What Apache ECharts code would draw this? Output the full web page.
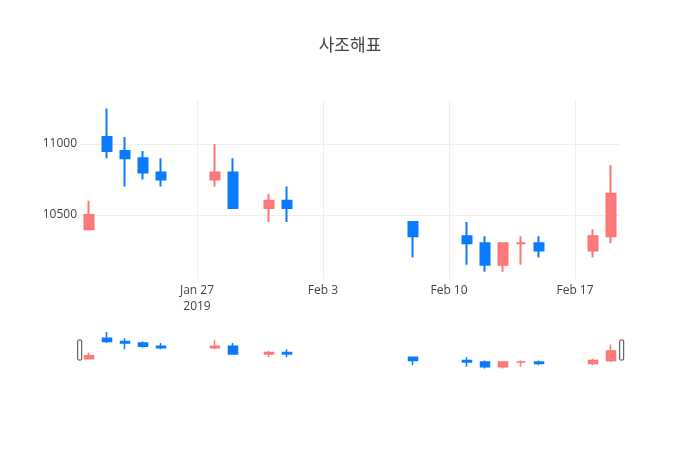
<!DOCTYPE html>
<html>
<head>
<meta charset="utf-8">
<script src="https://cdn.jsdelivr.net/npm/echarts@6/dist/echarts.min.js"></script>
<style>html,body{margin:0;padding:0;background:#fff}#c{width:700px;height:450px}</style>
</head>
<body>
<div id="c"></div>
<script>
const dates = ['2019-01-21','2019-01-22','2019-01-23','2019-01-24','2019-01-25','2019-01-28','2019-01-29','2019-01-31','2019-02-01','2019-02-08','2019-02-11','2019-02-12','2019-02-13','2019-02-14','2019-02-15','2019-02-18','2019-02-19'];
const openVals  = [10400,11050,10950,10900,10800,10750,10800,10550,10600,10450,10350,10300,10150,10300,10300,10250,10350];
const closeVals = [10500,10950,10900,10800,10750,10800,10550,10600,10550,10350,10300,10150,10300,10300,10250,10350,10650];
const lowVals   = [10400,10900,10700,10750,10700,10700,10550,10450,10450,10200,10150,10100,10100,10150,10200,10200,10300];
const highVals  = [10600,11250,11050,10950,10900,11000,10900,10650,10700,10450,10450,10350,10300,10350,10350,10400,10850];
const xTickDates  = ['2019-01-27','2019-02-03','2019-02-10','2019-02-17'];
const xTickLabels = ['Jan 27\n2019','Feb 3','Feb 10','Feb 17'];
const yTickValues = [10500, 11000];
const yTickLabels = ['10500', '11000'];
const titleText = '사조해표';

const ts = s => +echarts.time.parse(s);
const xMin = ts('2019-01-20 12:00:00'), xMax = ts('2019-02-19 12:00:00');
const yMin = 10049, yMax = 11310;

const xTickTs = xTickDates.map(ts);
const ohlc = dates.map((d, i) => [ts(d), openVals[i], closeVals[i], lowVals[i], highVals[i]]);
const UP = '#ff7b7b', UPB = '#ff7474', DN = '#0a7aff';
const FONT = '"Open Sans", "Noto Sans CJK KR", sans-serif';

const chart = echarts.init(document.getElementById('c'), null, {renderer: 'canvas'});
chart.setOption({
  animation: false,
  backgroundColor: '#fff',
  title: {
    text: titleText, left: 'center', top: 33,
    textStyle: {fontFamily: FONT, fontSize: 17, fontWeight: 'normal', color: '#444'}
  },
  grid: [
    {left: 80, right: 80, top: 100, height: 179},
    {left: 80, right: 80, top: 330, height: 40}
  ],
  xAxis: [
    {
      type: 'value', gridIndex: 0, min: xMin, max: xMax, scale: true,
      axisLine: {show: false}, axisTick: {show: false, customValues: xTickTs},
      splitLine: {show: true, lineStyle: {color: '#eee', width: 1}},
      axisLabel: {
        customValues: xTickTs, margin: 4, fontFamily: FONT, fontSize: 12, color: '#444',
        lineHeight: 16, align: 'center',
        formatter: function (v) {
          const i = xTickTs.indexOf(v);
          return i >= 0 ? xTickLabels[i] : '';
        }
      }
    },
    {type: 'value', gridIndex: 1, min: xMin, max: xMax, scale: true, show: false, splitLine: {show: false}}
  ],
  yAxis: [
    {
      type: 'value', gridIndex: 0, min: yMin, max: yMax,
      axisLine: {show: false}, axisTick: {show: false, customValues: yTickValues},
      splitLine: {show: true, lineStyle: {color: '#eee', width: 1}},
      axisLabel: {
        customValues: yTickValues, margin: 3, fontFamily: FONT, fontSize: 12, color: '#444',
        formatter: function (v) {
          const i = yTickValues.indexOf(v);
          return i >= 0 ? yTickLabels[i] : String(v);
        }
      }
    },
    {type: 'value', gridIndex: 1, min: yMin, max: yMax, show: false, splitLine: {show: false}}
  ],
  dataZoom: [{
    type: 'slider', xAxisIndex: 1, filterMode: 'none', start: 0, end: 100,
    left: 78, right: 78, top: 330, height: 40,
    showDetail: false, showDataShadow: false, brushSelect: false, zoomLock: true,
    backgroundColor: 'rgba(0,0,0,0)', borderColor: 'rgba(0,0,0,0)', fillerColor: 'rgba(0,0,0,0)',
    dataBackground: {lineStyle: {opacity: 0}, areaStyle: {opacity: 0}},
    selectedDataBackground: {lineStyle: {opacity: 0}, areaStyle: {opacity: 0}},
    handleIcon: 'path://M1,0H3A1,1,0,0,1,4,1V19A1,1,0,0,1,3,20H1A1,1,0,0,1,0,19V1A1,1,0,0,1,1,0Z',
    handleSize: 20,
    handleStyle: {color: '#fff', borderColor: '#444', borderWidth: 1},
    moveHandleSize: 0, moveHandleStyle: {opacity: 0},
    emphasis: {handleStyle: {color: '#fff', borderColor: '#444', borderWidth: 1}, moveHandleStyle: {opacity: 0}}
  }],
  series: [
    {
      type: 'candlestick', xAxisIndex: 0, yAxisIndex: 0, data: ohlc,
      encode: {x: 0, y: [1, 2, 3, 4]}, barWidth: 9,
      itemStyle: {color: UP, color0: DN, borderColor: UPB, borderColor0: DN, borderWidth: 2}
    },
    {
      type: 'candlestick', xAxisIndex: 1, yAxisIndex: 1, data: ohlc,
      encode: {x: 0, y: [1, 2, 3, 4]}, barWidth: 9.5,
      itemStyle: {color: UP, color0: DN, borderColor: UPB, borderColor0: DN, borderWidth: 1.5}
    }
  ]
});
</script>
</body>
</html>
